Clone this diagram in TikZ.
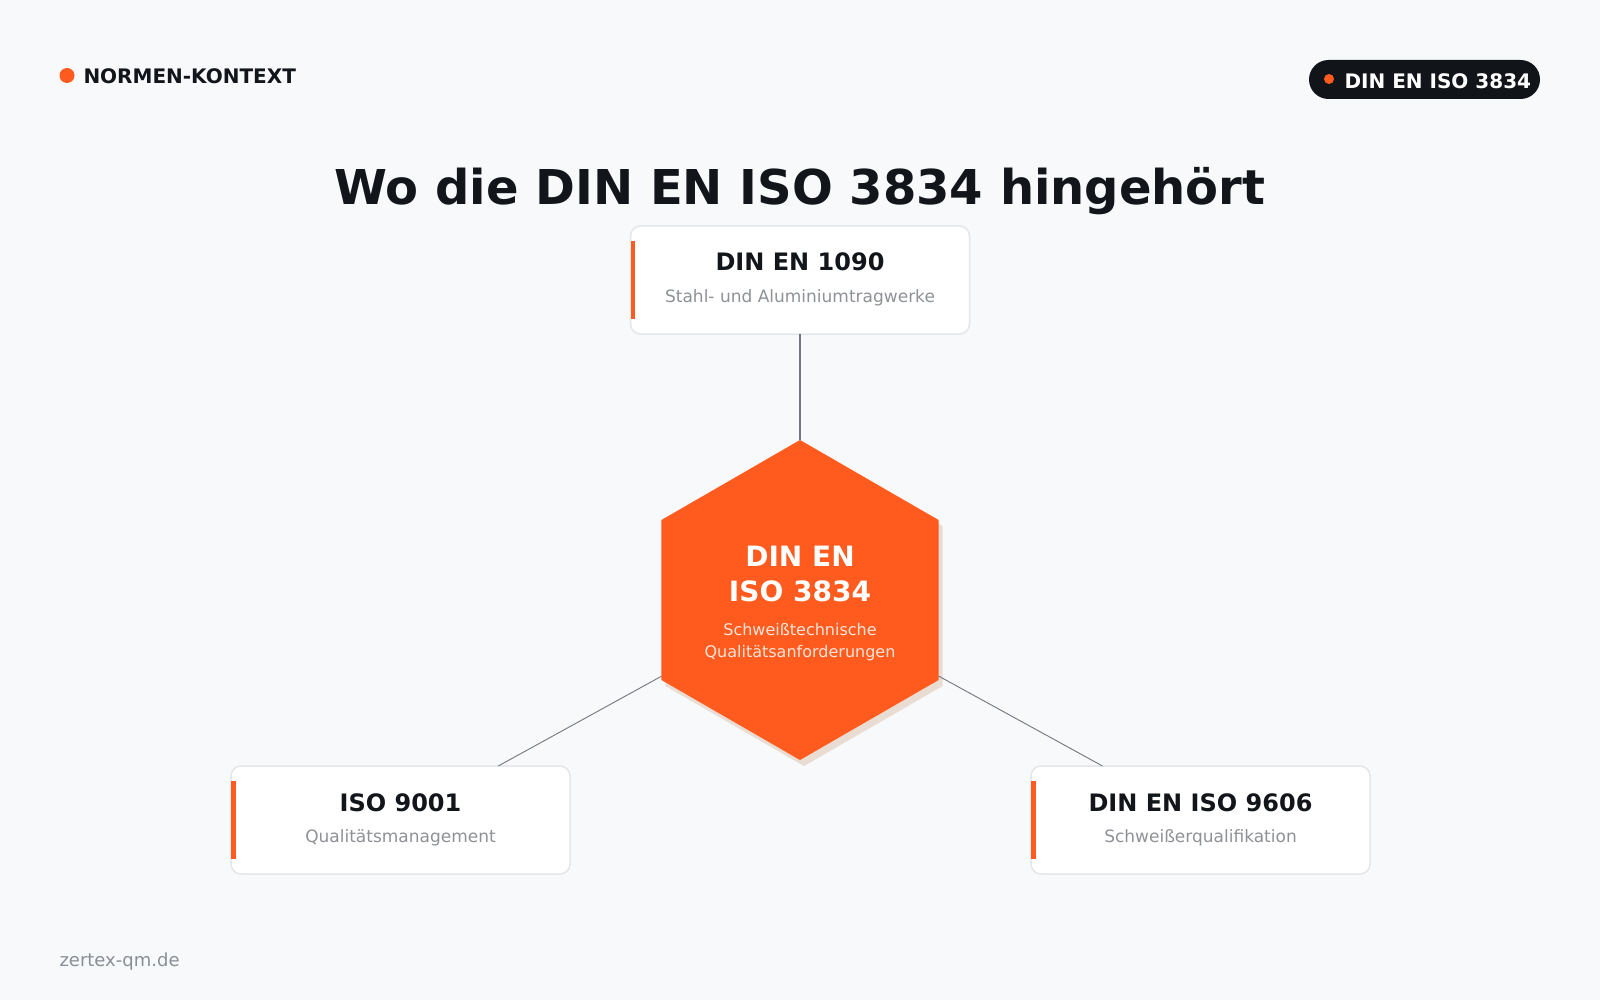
\documentclass[tikz,border=0pt]{standalone}
\usepackage{fontspec}
\setmainfont{DejaVu Sans}
\usetikzlibrary{shapes.geometric}
\definecolor{bg}{HTML}{F7F9FB}
\definecolor{accent}{HTML}{FF5B1F}
\definecolor{ink}{HTML}{121519}
\definecolor{subgray}{HTML}{8E9196}
\definecolor{boxborder}{HTML}{E3E6EA}
\definecolor{hexshadowc}{HTML}{E9DCD2}
\definecolor{linegray}{HTML}{72777E}
\definecolor{footgray}{HTML}{8A8F96}
\definecolor{pillc}{HTML}{111418}
\definecolor{hexsub}{HTML}{FFE4D8}
\newcommand{\setpx}[1]{\fontsize{#1pt}{#1pt}\selectfont}
\begin{document}
\begin{tikzpicture}[x=1pt,y=-1pt,
  card/.style={draw=boxborder, line width=1.5pt, fill=white, rounded corners=10pt,
    minimum width=339pt, minimum height=108pt, inner sep=0pt, outer sep=0pt},
  cardtitle/.style={anchor=base, text=ink, font=\bfseries\setpx{24}, inner sep=0pt},
  cardsub/.style={anchor=base, text=subgray, font=\setpx{17}, inner sep=0pt},
  conn/.style={draw=linegray, line width=1.1pt},
  hexa/.style={regular polygon, regular polygon sides=6, shape border rotate=30,
    minimum size=320pt, inner sep=0pt, outer sep=0pt, draw=none},
  hextitle/.style={anchor=base, text=white, font=\bfseries\setpx{28}, inner sep=0pt},
  hexsubt/.style={anchor=base, text=hexsub, font=\setpx{16}, inner sep=0pt},
  plain/.style={inner sep=0pt, outer sep=0pt}
]
\fill[bg] (0,0) rectangle (1600,1000);
\useasboundingbox (0,0) rectangle (1600,1000);

% header
\node[plain, circle, fill=accent, minimum size=15pt] (ctxdot) at (67,75.5) {};
\node[plain, anchor=base west, font=\bfseries\setpx{20}, text=ink] (ctx) at (83.5,83.3) {NORMEN-KONTEXT};
\node[plain, fill=pillc, rounded corners=19.5pt, minimum width=231pt, minimum height=39pt] (pill) at (1424.5,79.5) {};
\node[plain, circle, fill=accent, minimum size=10pt] (pilldot) at (1329,79) {};
\node[plain, anchor=base west, font=\bfseries\setpx{20}, text=white] (pilltext) at (1344.5,88.3) {DIN EN ISO 3834};

% title
\node[plain, anchor=base, font=\bfseries\setpx{48}, text=ink] (title) at (800,205) {Wo die DIN EN ISO 3834 hingehört};

% cards
\node[card] (top) at (800,280) {};
\node[card] (left) at (400.5,820) {};
\node[card] (right) at (1200.5,820) {};
\foreach \c in {top,left,right}{
  \fill[accent] ([yshift=15pt]\c.south west) rectangle ([xshift=4.5pt,yshift=-15pt]\c.north west);
}
\node[cardtitle] (toptitle) at ([yshift=-45pt]top.north) {DIN EN 1090};
\node[cardsub] (topsub) at ([yshift=-76pt]top.north) {Stahl- und Aluminiumtragwerke};
\node[cardtitle] (lefttitle) at ([yshift=-45pt]left.north) {ISO 9001};
\node[cardsub] (leftsub) at ([yshift=-76pt]left.north) {Qualitätsmanagement};
\node[cardtitle] (righttitle) at ([yshift=-45pt]right.north) {DIN EN ISO 9606};
\node[cardsub] (rightsub) at ([yshift=-76pt]right.north) {Schweißerqualifikation};

% hexagon
\node[hexa, fill=hexshadowc] (hexshadow) at (804,606) {};
\node[hexa, fill=accent] (hex) at (800,600) {};
\node[hextitle] (hexl1) at (800,566) {DIN EN};
\node[hextitle] (hexl2) at (800,601) {ISO 3834};
\node[hexsubt] (hexl3) at (800,635) {Schweißtechnische};
\node[hexsubt] (hexl4) at (800,657) {Qualitätsanforderungen};

% connectors
\draw[conn] (hex) -- (top);
\draw[conn, line width=0.9pt] (hex) -- (left);
\draw[conn, line width=0.9pt] (hex) -- (right);

% footer
\node[plain, anchor=base west, font=\setpx{18}, text=footgray] (footer) at (59.5,966.5) {zertex-qm.de};
\end{tikzpicture}
\end{document}
